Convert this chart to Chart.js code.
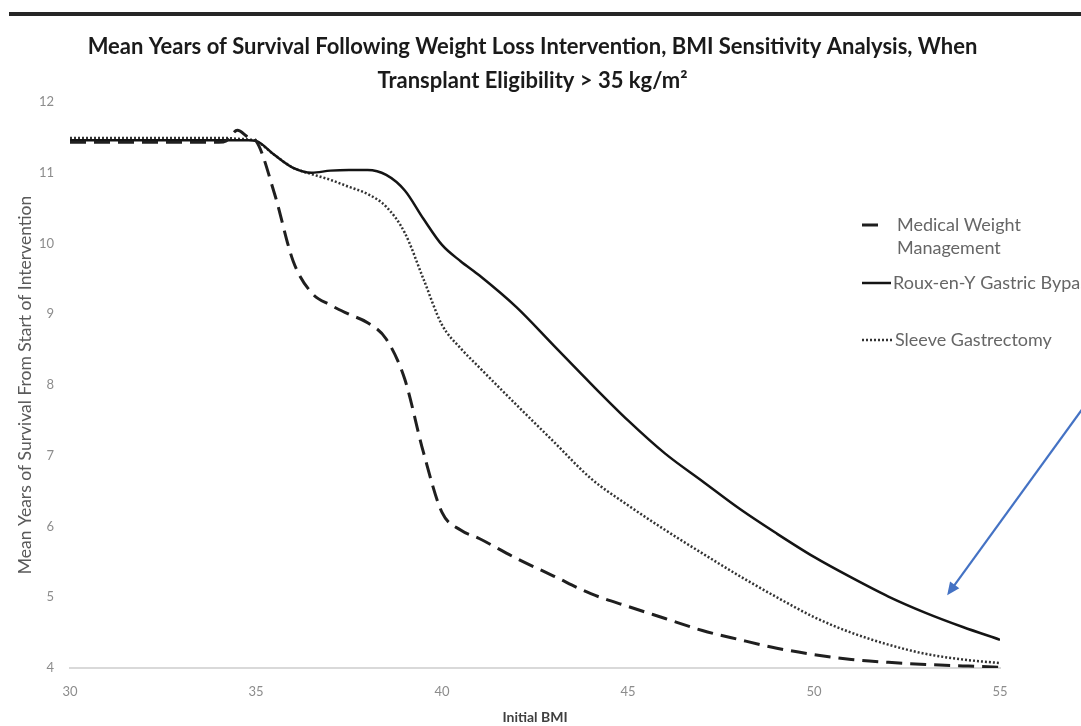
<!DOCTYPE html>
<html>
<head>
<meta charset="utf-8">
<title>Mean Years of Survival – BMI Sensitivity Analysis</title>
<script src="https://cdn.jsdelivr.net/npm/chart.js@4.4.1/dist/chart.umd.min.js"></script>
<style>
  html, body { margin: 0; padding: 0; background: #fff; }
  .frame { position: relative; width: 1081px; height: 726px; overflow: hidden; }
  .frame canvas { position: absolute; left: 0; top: 0; }
  .rule { position: absolute; left: 9px; top: 12px; width: 1072px; height: 4px; background: #262626; }
</style>
</head>
<body>
<div class="frame">
  <canvas id="chart" width="1081" height="726"></canvas>
  <div class="rule"></div>
</div>
<script>
// Initial BMI (x) and mean years of survival for each intervention
const BMI = [30, 31, 32, 33, 34, 34.2, 34.5, 34.8, 35, 35.5, 36, 36.5, 37, 37.5, 38, 38.5, 39, 39.5, 40, 40.5, 41, 42, 43, 44, 45, 46, 47, 48, 49, 50, 51, 52, 53, 54, 55];
const MEDICAL = [11.43, 11.43, 11.43, 11.43, 11.43, 11.45, 11.6, 11.5, 11.45, 10.7, 9.75, 9.3, 9.13, 9.0, 8.88, 8.65, 8.08, 7.05, 6.2, 5.95, 5.83, 5.55, 5.3, 5.05, 4.87, 4.7, 4.53, 4.4, 4.28, 4.19, 4.12, 4.08, 4.05, 4.03, 4.01];
const ROUX_EN_Y = [11.46, 11.46, 11.46, 11.46, 11.46, 11.46, 11.46, 11.46, 11.45, 11.25, 11.07, 11.0, 11.03, 11.04, 11.04, 10.97, 10.75, 10.35, 9.98, 9.75, 9.55, 9.1, 8.56, 8.02, 7.5, 7.03, 6.64, 6.25, 5.9, 5.57, 5.28, 5.01, 4.78, 4.58, 4.4];
const SLEEVE = [11.49, 11.49, 11.49, 11.49, 11.49, 11.49, 11.48, 11.47, 11.45, 11.25, 11.07, 10.98, 10.9, 10.8, 10.7, 10.52, 10.15, 9.5, 8.85, 8.52, 8.25, 7.72, 7.2, 6.68, 6.3, 5.95, 5.62, 5.3, 5.0, 4.72, 4.5, 4.33, 4.2, 4.12, 4.07];

const X_TICKS = [30, 35, 40, 45, 50, 55];
const Y_TICKS = [4, 5, 6, 7, 8, 9, 10, 11, 12];

// callout arrow, in data units (BMI, years)
const ARROW_FROM = { x: 57.2, y: 7.65 };
const ARROW_TO = { x: 53.58, y: 5.03 };

const FONT = "Lato, 'Open Sans', 'Noto Sans', sans-serif";
const LABEL_GREY = "#666666";

function toPoints(values) {
  return values.map((v, i) => ({ x: BMI[i], y: v }));
}

const datasets = [
  {
    label: "Medical Weight Management",
    data: toPoints(MEDICAL),
    borderColor: "#1f1f1f",
    borderWidth: 3,
    borderDash: [16, 8],
    legendLines: ["Medical Weight", "Management"],
    legendY: 225,
    sampleLen: 16,
    textX: 897,
  },
  {
    label: "Roux-en-Y Gastric Bypass",
    data: toPoints(ROUX_EN_Y),
    borderColor: "#141414",
    borderWidth: 2.5,
    borderDash: [],
    legendLines: ["Roux-en-Y Gastric Bypass"],
    legendY: 283,
    sampleLen: 29,
    textX: 893,
  },
  {
    label: "Sleeve Gastrectomy",
    data: toPoints(SLEEVE),
    borderColor: "#333333",
    borderWidth: 2.5,
    borderDash: [2, 2],
    legendLines: ["Sleeve Gastrectomy"],
    legendY: 340,
    sampleLen: 31,
    textX: 895,
  },
];

// legend block on the right, text clipped by the canvas edge
const sideLegend = {
  id: "sideLegend",
  afterDraw(chart) {
    const ctx = chart.ctx;
    ctx.save();
    ctx.font = `18px ${FONT}`;
    ctx.fillStyle = LABEL_GREY;
    ctx.textBaseline = "middle";
    chart.data.datasets.forEach((ds) => {
      ctx.beginPath();
      ctx.strokeStyle = ds.borderColor;
      ctx.lineWidth = ds.borderWidth;
      ctx.setLineDash(ds.borderDash);
      ctx.moveTo(862, ds.legendY);
      ctx.lineTo(862 + ds.sampleLen, ds.legendY);
      ctx.stroke();
      ds.legendLines.forEach((line, i) => {
        ctx.fillText(line, ds.textX, ds.legendY + i * 23);
      });
    });
    ctx.restore();
  },
};

const calloutArrow = {
  id: "calloutArrow",
  afterDraw(chart) {
    const { x, y } = chart.scales;
    const x1 = x.getPixelForValue(ARROW_FROM.x);
    const y1 = y.getPixelForValue(ARROW_FROM.y);
    const x2 = x.getPixelForValue(ARROW_TO.x);
    const y2 = y.getPixelForValue(ARROW_TO.y);
    const ang = Math.atan2(y2 - y1, x2 - x1);
    const head = 14;
    const ctx = chart.ctx;
    ctx.save();
    ctx.strokeStyle = "#4472c4";
    ctx.fillStyle = "#4472c4";
    ctx.lineWidth = 2.2;
    ctx.beginPath();
    ctx.moveTo(x1, y1);
    ctx.lineTo(x2 - Math.cos(ang) * head * 0.8, y2 - Math.sin(ang) * head * 0.8);
    ctx.stroke();
    ctx.beginPath();
    ctx.moveTo(x2, y2);
    ctx.lineTo(x2 - head * Math.cos(ang - 0.42), y2 - head * Math.sin(ang - 0.42));
    ctx.lineTo(x2 - head * Math.cos(ang + 0.42), y2 - head * Math.sin(ang + 0.42));
    ctx.closePath();
    ctx.fill();
    ctx.restore();
  },
};

new Chart(document.getElementById("chart"), {
  type: "line",
  data: { datasets },
  plugins: [sideLegend, calloutArrow],
  options: {
    responsive: false,
    devicePixelRatio: 1,
    animation: false,
    layout: { padding: { left: 0, right: 16, top: 0, bottom: 0 } },
    elements: {
      point: { radius: 0, hoverRadius: 0 },
      line: { cubicInterpolationMode: "monotone", borderCapStyle: "butt" },
    },
    plugins: {
      legend: { display: false },
      tooltip: { enabled: false },
      title: {
        display: true,
        text: [
          "Mean Years of Survival Following Weight Loss Intervention, BMI Sensitivity Analysis, When",
          "Transplant Eligibility > 35 kg/m²",
        ],
        color: "#1a1a1a",
        font: { family: FONT, size: 22, weight: "bold", lineHeight: 1.55 },
        padding: { top: 30, bottom: 3.8 },
      },
    },
    scales: {
      x: {
        type: "linear",
        min: 30,
        max: 55,
        afterBuildTicks: (scale) => {
          scale.ticks = X_TICKS.map((v) => ({ value: v }));
        },
        afterFit: (scale) => {
          scale.height = 58;
        },
        grid: { display: false, drawTicks: false },
        border: { display: true, color: "#d9d9d9", width: 2 },
        ticks: { color: "#8c8c8c", padding: 16, font: { family: FONT, size: 13 } },
        title: {
          display: true,
          text: "Initial BMI",
          color: "#404040",
          font: { family: FONT, size: 14, weight: "bold" },
          padding: { top: 0, bottom: 0 },
        },
      },
      y: {
        min: 4,
        max: 12,
        afterBuildTicks: (scale) => {
          scale.ticks = Y_TICKS.map((v) => ({ value: v }));
        },
        afterFit: (scale) => {
          scale.width = 70;
        },
        grid: { display: false, drawTicks: false },
        border: { display: false },
        ticks: { color: "#8c8c8c", padding: 16, font: { family: FONT, size: 13 } },
        title: {
          display: true,
          text: "Mean Years of Survival From Start of Intervention",
          color: "#5a5a5a",
          font: { family: FONT, size: 17.5, weight: "normal" },
          padding: { top: 15, bottom: 0 },
        },
      },
      // empty right-hand axis that keeps the plot clear of the legend column
      yRight: {
        position: "right",
        min: 4,
        max: 12,
        afterFit: (scale) => {
          scale.width = 65;
        },
        grid: { display: false, drawTicks: false },
        border: { display: false },
        ticks: { display: false },
      },
    },
  },
});
</script>
</body>
</html>
